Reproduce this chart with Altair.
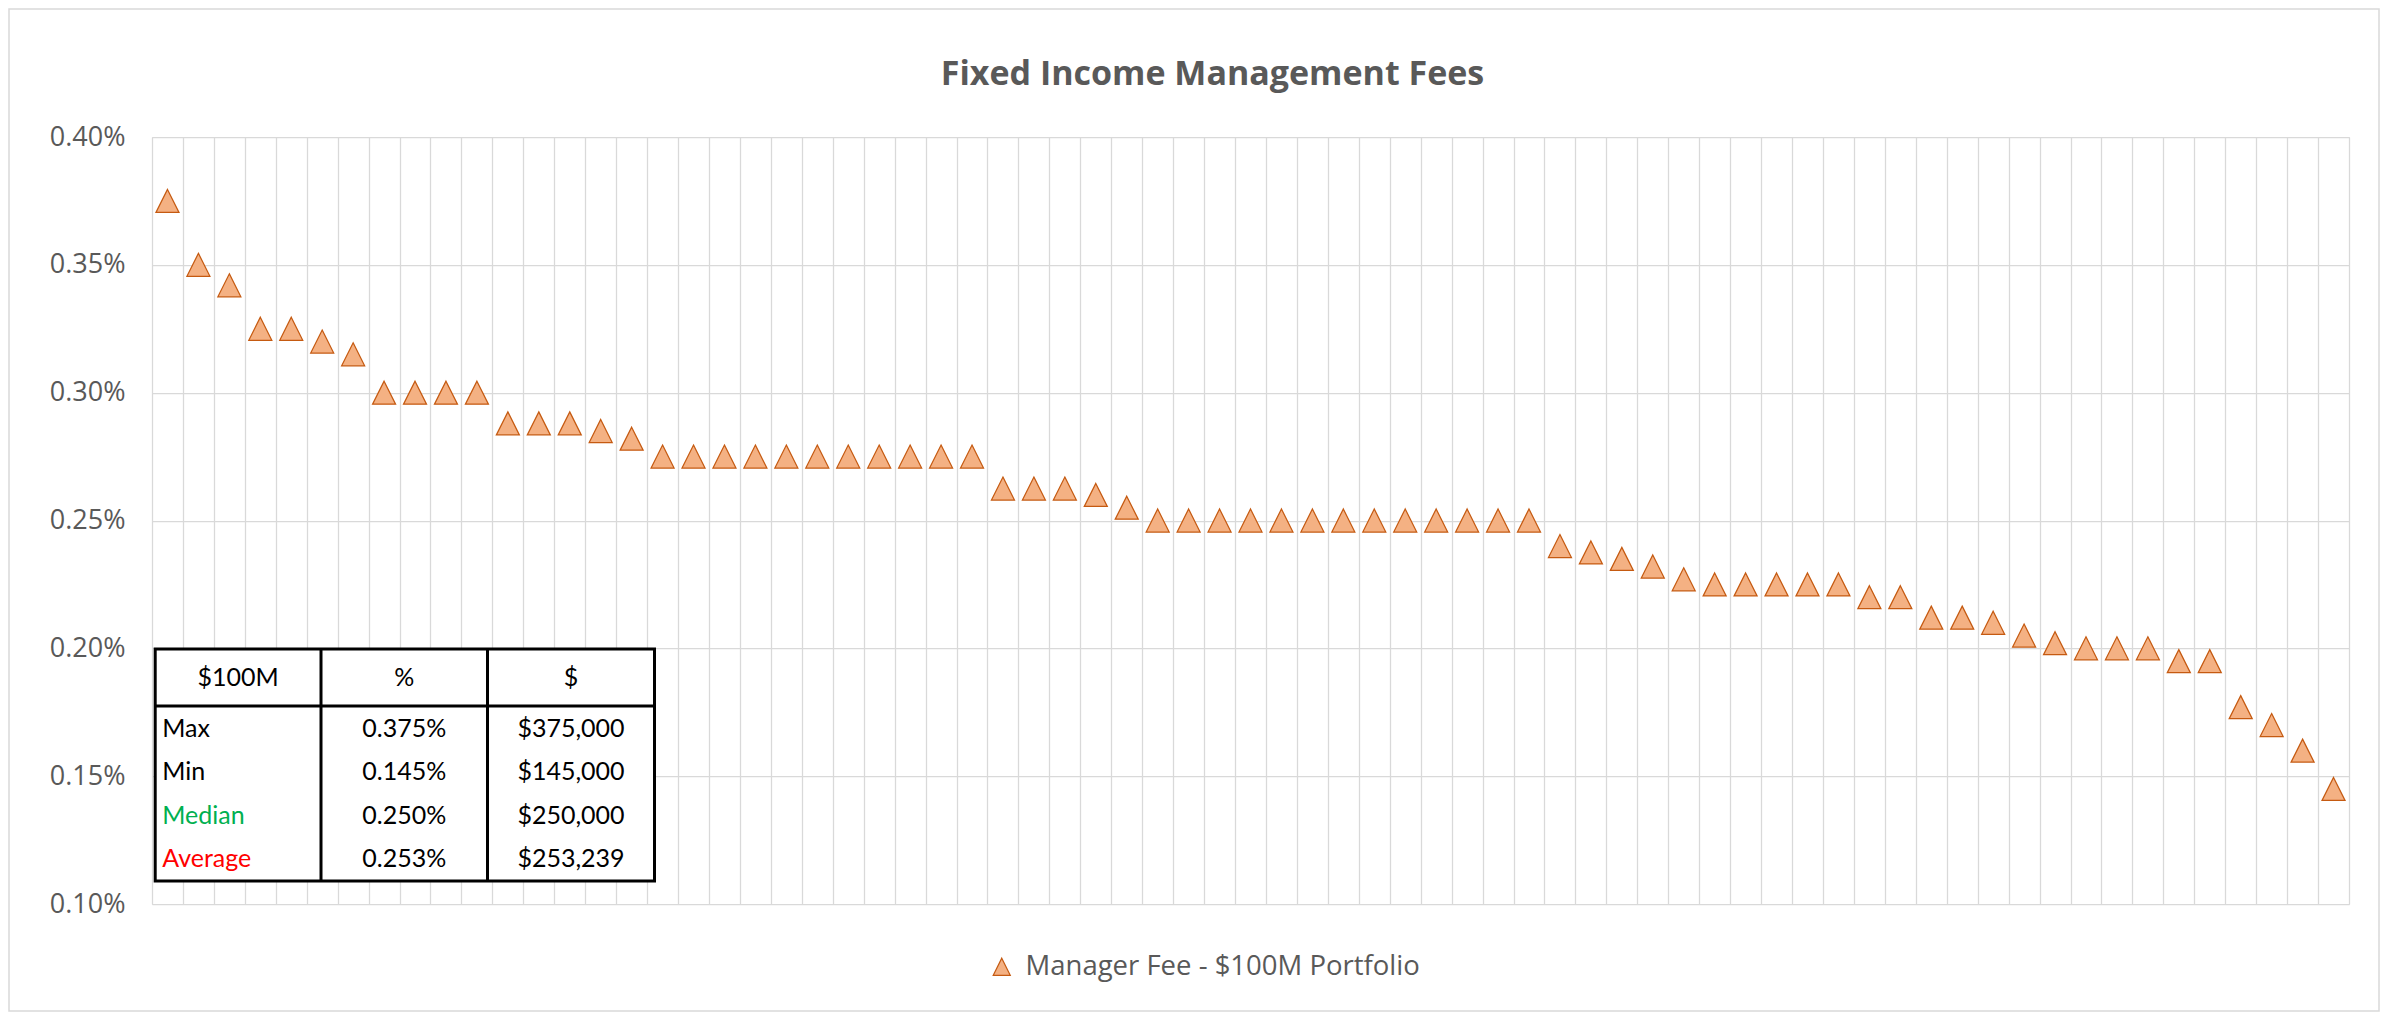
import altair as alt
import pandas as pd

# ---------------- data ----------------
fees_pct = [
    0.375, 0.350, 0.342, 0.325, 0.325, 0.320, 0.315, 0.300, 0.300, 0.300,
    0.300, 0.288, 0.288, 0.288, 0.285, 0.282, 0.275, 0.275, 0.275, 0.275,
    0.275, 0.275, 0.275, 0.275, 0.275, 0.275, 0.275, 0.2625, 0.2625, 0.2625,
    0.260, 0.255, 0.250, 0.250, 0.250, 0.250, 0.250, 0.250, 0.250, 0.250,
    0.250, 0.250, 0.250, 0.250, 0.250, 0.240, 0.2375, 0.235, 0.232, 0.227,
    0.225, 0.225, 0.225, 0.225, 0.225, 0.220, 0.220, 0.212, 0.212, 0.210,
    0.205, 0.202, 0.200, 0.200, 0.200, 0.195, 0.195, 0.177, 0.170, 0.160,
    0.145,
]
series_name = "Manager Fee - $100M Portfolio"
y_ticks = [0.001, 0.0015, 0.002, 0.0025, 0.003, 0.0035, 0.004]

table_header = ["$100M", "%", "$"]
table_labels = ["Max", "Min", "Median", "Average"]
table_label_colors = ["#000000", "#000000", "#00B050", "#FF0000"]
table_pct = ["0.375%", "0.145%", "0.250%", "0.253%"]
table_usd = ["$375,000", "$145,000", "$250,000", "$253,239"]

title_text = "Fixed Income Management Fees"

# ---------------- layout constants ----------------
W, H = 2197, 767
PAD_L, PAD_T, PAD_R, PAD_B = 144, 129, 32, 109
GRID = "#D9D9D9"
TXT = "#595959"
TRI = "M0,-1L1,1L-1,1Z"

df = pd.DataFrame({
    "idx": list(range(1, len(fees_pct) + 1)),
    "fee": [v / 100 for v in fees_pct],
    "series": [series_name] * len(fees_pct),
})

# table geometry (plot coordinates)
t_left, t_right, t_top, t_head, t_bottom = 3.2, 502.5, 512.0, 569.0, 744.0
c1, c2 = 169.0, 335.5
col_center = [(t_left + c1) / 2, (c1 + c2) / 2, (c2 + t_right) / 2]
head_y = (t_top + t_head) / 2
row_y0, row_step = 592.0, 43.4

cells = []
for j, h in enumerate(table_header):
    cells.append({"text": h, "px": col_center[j], "py": head_y, "color": "#000000", "align": "center"})
for i in range(len(table_labels)):
    y = row_y0 + i * row_step
    cells.append({"text": table_labels[i], "px": t_left + 7, "py": y, "color": table_label_colors[i], "align": "left"})
    cells.append({"text": table_pct[i], "px": col_center[1], "py": y, "color": "#000000", "align": "center"})
    cells.append({"text": table_usd[i], "px": col_center[2], "py": y, "color": "#000000", "align": "center"})
cells_df = pd.DataFrame(cells)

rules_df = pd.DataFrame([
    {"x": t_left, "x2": t_right, "y": t_head, "y2": t_head},
    {"x": c1, "x2": c1, "y": t_top, "y2": t_bottom},
    {"x": c2, "x2": c2, "y": t_top, "y2": t_bottom},
])

# ---------------- layers ----------------
border = alt.Chart(alt.Data(values=[{"k": 1}])).mark_rect(
    fill=None, stroke=GRID, strokeWidth=1.5
).encode(
    x=alt.value(-143), x2=alt.value(W + PAD_R - 2),
    y=alt.value(-128), y2=alt.value(H + PAD_B - 2),
)

points = alt.Chart(df).mark_point(
    shape=TRI, size=529, filled=True, stroke="#C55A11", strokeWidth=1.25,
    opacity=1, fillOpacity=1,
).encode(
    x=alt.X("idx:O", title=None,
            scale=alt.Scale(paddingInner=0, paddingOuter=0),
            axis=alt.Axis(labels=False, ticks=False, domain=False, grid=True,
                          tickBand="extent", gridColor=GRID, gridWidth=1.25)),
    y=alt.Y("fee:Q", title=None,
            scale=alt.Scale(domain=[0.001, 0.004], nice=False, zero=False),
            axis=alt.Axis(values=y_ticks, format=".2%", ticks=False, tickSize=0,
                          domain=False, grid=True, gridColor=GRID, gridWidth=1.25,
                          labelFont="Open Sans", labelFontSize=27, labelColor=TXT,
                          labelPadding=27, labelFlush=False, labelOverlap=False)),
    fill=alt.Fill("series:N", title=None,
                  scale=alt.Scale(range=["#F4B183"]),
                  legend=alt.Legend(orient="none", legendX=836, legendY=816,
                                    symbolType=TRI, symbolSize=289,
                                    symbolStrokeColor="#C55A11", symbolStrokeWidth=1.25,
                                    symbolFillColor="#F4B183",
                                    labelFont="Open Sans", labelFontSize=27.5,
                                    labelColor=TXT, labelOffset=10, padding=0,
                                    labelLimit=0)),
)

table_box = alt.Chart(alt.Data(values=[{"k": 1}])).mark_rect(
    fill="white", stroke="black", strokeWidth=3
).encode(
    x=alt.value(t_left), x2=alt.value(t_right),
    y=alt.value(t_top), y2=alt.value(t_bottom),
)

table_rules = alt.Chart(rules_df).mark_rule(color="black", strokeWidth=3).encode(
    x=alt.X("x:Q", scale=None), x2="x2:Q",
    y=alt.Y("y:Q", scale=None), y2="y2:Q",
)

table_text_c = alt.Chart(cells_df).transform_filter(
    alt.datum.align == "center"
).mark_text(font="Lato", fontSize=25, align="center", baseline="middle").encode(
    x=alt.X("px:Q", scale=None), y=alt.Y("py:Q", scale=None),
    text="text:N", color=alt.Color("color:N", scale=None),
)
table_text_l = alt.Chart(cells_df).transform_filter(
    alt.datum.align == "left"
).mark_text(font="Lato", fontSize=25, align="left", baseline="middle").encode(
    x=alt.X("px:Q", scale=None), y=alt.Y("py:Q", scale=None),
    text="text:N", color=alt.Color("color:N", scale=None),
)

chart = alt.layer(
    border, points, table_box, table_rules, table_text_c, table_text_l
).properties(
    width=W, height=H,
    title=alt.Title(title_text, font="Open Sans", fontSize=34, fontWeight="bold",
                    color=TXT, anchor="middle", dx=-38, offset=-84),
    autosize=alt.AutoSizeParams(type="none"),
    padding={"left": PAD_L, "top": PAD_T, "right": PAD_R, "bottom": PAD_B},
).configure_view(stroke=None).configure(background="white")

chart.save("out.html", embed_options={"renderer": "svg", "actions": False})
